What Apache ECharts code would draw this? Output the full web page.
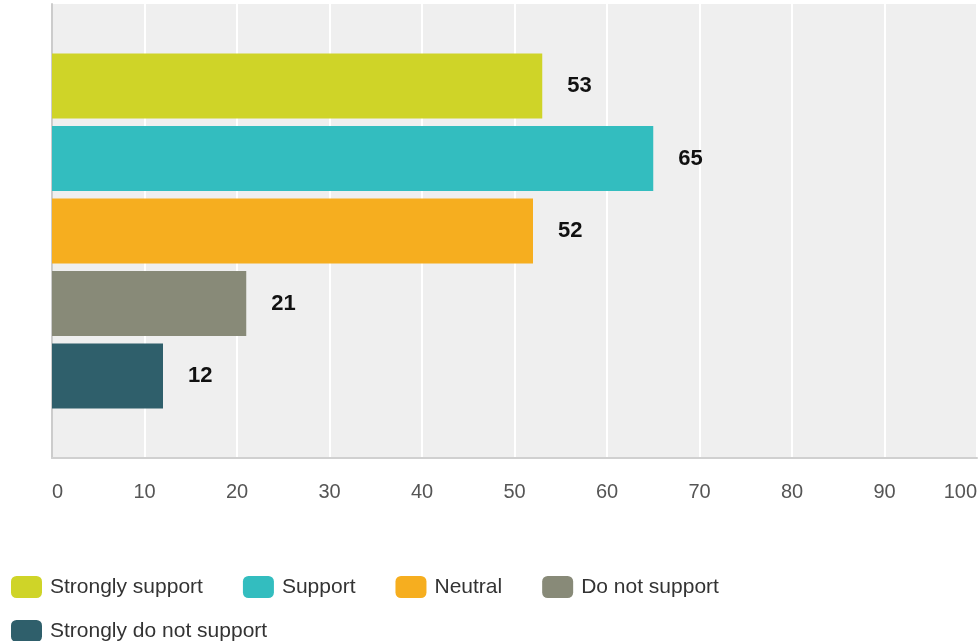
<!DOCTYPE html>
<html>
<head>
<meta charset="utf-8">
<script src="https://cdn.jsdelivr.net/npm/echarts@6/dist/echarts.min.js"></script>
<style>
html,body{margin:0;padding:0;background:#fff;}
#chart{width:980px;height:641px;}
</style>
</head>
<body>
<div id="chart"></div>
<script>
const categories = ['Responses'];
const seriesNames = ['Strongly support', 'Support', 'Neutral', 'Do not support', 'Strongly do not support'];
const values = [53, 65, 52, 21, 12];
const colors = ['#cfd428', '#33bdbf', '#f6ae1f', '#888a78', '#2f5f6b'];
const xTicks = [0, 100, 10];

const font = "'Liberation Sans', Arial, sans-serif";
const chart = echarts.init(document.getElementById('chart'), null, {renderer: 'canvas'});

const series = seriesNames.map((name, i) => ({
  name: name,
  type: 'bar',
  data: [values[i]],
  barWidth: 65,
  barGap: '11.5%',
  itemStyle: {color: colors[i]},
  label: {
    show: true,
    position: 'right',
    distance: 25,
    fontFamily: font,
    fontWeight: 'bold',
    fontSize: 22,
    color: '#111'
  }
}));

const legendCommon = {
  orient: 'horizontal',
  left: 11,
  padding: 0,
  icon: 'roundRect',
  itemWidth: 31,
  itemHeight: 22,
  itemGap: 40,
  textStyle: {fontFamily: font, fontSize: 21, color: '#333', padding: [0, 0, 0, 3]}
};

chart.setOption({
  animation: false,
  color: colors,
  grid: {
    left: 52, right: 2.5, top: 4, bottom: 183,
    show: true, backgroundColor: '#efefef', borderWidth: 0
  },
  legend: [
    Object.assign({}, legendCommon, {top: 576, data: seriesNames.slice(0, 4)}),
    Object.assign({}, legendCommon, {top: 620, data: seriesNames.slice(4)})
  ],
  xAxis: {
    type: 'value',
    min: xTicks[0], max: xTicks[1], interval: xTicks[2],
    axisLine: {show: true, lineStyle: {color: '#d0d0d0', width: 2}},
    axisTick: {show: false},
    splitLine: {show: true, lineStyle: {color: '#ffffff', width: 2}},
    axisLabel: {
      fontFamily: font, fontSize: 20, color: '#555', margin: 24,
      alignMinLabel: 'left', alignMaxLabel: 'right'
    }
  },
  yAxis: {
    type: 'category',
    data: categories,
    inverse: true,
    axisLine: {show: true, lineStyle: {color: '#cccccc', width: 2}},
    axisTick: {show: false},
    axisLabel: {show: false},
    splitLine: {show: false}
  },
  series: series
});
</script>
</body>
</html>
